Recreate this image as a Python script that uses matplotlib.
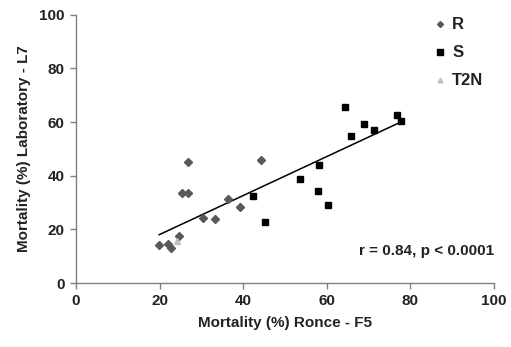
import numpy as np
import matplotlib
matplotlib.use("Agg")
import matplotlib.pyplot as plt

plt.rcParams['font.family'] = ['Liberation Sans', 'DejaVu Sans']
plt.rcParams['font.weight'] = 'bold'

# Data
r_x = [19.9, 22.0, 22.7, 24.6, 25.3, 26.9, 26.9, 30.5, 33.2, 36.3, 39.2, 44.2]
r_y = [14.1, 14.4, 13.2, 17.4, 33.4, 33.4, 45.0, 24.3, 24.0, 31.2, 28.4, 45.8]
s_x = [42.3, 45.2, 53.7, 57.9, 58.1, 60.3, 64.4, 65.8, 69.0, 71.3, 76.7, 77.7]
s_y = [32.4, 22.6, 38.6, 34.3, 43.9, 29.1, 65.7, 54.9, 59.1, 56.9, 62.6, 60.5]
t_x = [24.2]
t_y = [15.8]
x_ticks = [0, 20, 40, 60, 80, 100]
y_ticks = [0, 20, 40, 60, 80, 100]
stat_text = "r = 0.84, p < 0.0001"

fig = plt.figure(figsize=(5.11, 3.47), dpi=100)
ax = fig.add_axes([0.1487, 0.1844, 0.8180, 0.7732])

txt = '#222222'
grey = '#7f7f7f'
fs = 11

ax.plot(r_x, r_y, 'D', color='#595959', ms=3.8, mec='#595959', ls='none', label='R', zorder=3)
ax.plot(s_x, s_y, 's', color='black', ms=4.7, ls='none', label='S', zorder=3)
ax.plot(t_x, t_y, '^', color='#c0c0c0', ms=4.2, ls='none', label='T2N', zorder=3)

# regression line over all points
all_x = np.array(r_x + s_x + t_x)
all_y = np.array(r_y + s_y + t_y)
b, a = np.polyfit(all_x, all_y, 1)
xl = np.array([all_x.min(), all_x.max()])
ax.plot(xl, a + b * xl, color='black', lw=1.1, zorder=2)

ax.set_xlim(0, 100)
ax.set_ylim(0, 100)
ax.set_xticks(x_ticks)
ax.set_yticks(y_ticks)
for s in ['top', 'right']:
    ax.spines[s].set_visible(False)
for s in ['left', 'bottom']:
    ax.spines[s].set_color(grey)
    ax.spines[s].set_linewidth(1.0)
ax.tick_params(axis='both', colors=grey, length=4, width=1.0, direction='out',
               labelcolor=txt, labelsize=fs, pad=4)
for lab in ax.get_xticklabels() + ax.get_yticklabels():
    lab.set_fontweight('bold')

ax.set_xlabel('Mortality (%) Ronce - F5', fontsize=fs, fontweight='bold', color=txt, labelpad=6)
ax.set_ylabel('Mortality (%) Laboratory - L7', fontsize=fs, fontweight='bold', color=txt, labelpad=6)

ax.text(100, 12.0, stat_text, ha='right', va='center', fontsize=fs, fontweight='bold', color=txt)

leg = ax.legend(loc='upper left', bbox_to_anchor=(0.856, 0.99), frameon=False,
                fontsize=12, handletextpad=0.3, labelspacing=0.78, markerscale=0.8,
                handlelength=0.8, borderaxespad=0, borderpad=0)
for t in leg.get_texts():
    t.set_color(txt)
    t.set_fontweight('bold')

fig.savefig('out.png', dpi=100)
